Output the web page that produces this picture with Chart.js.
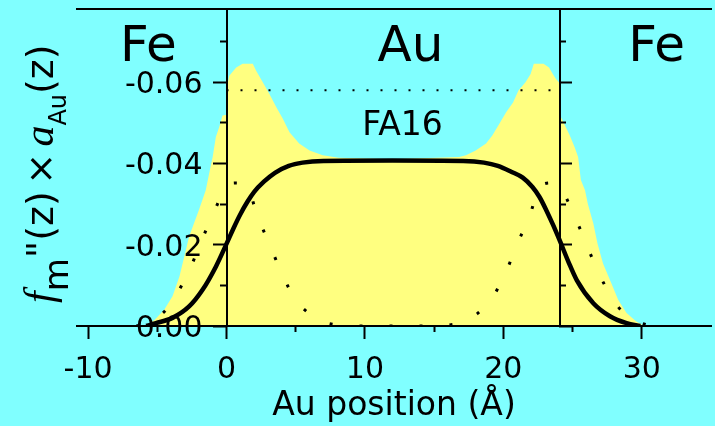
<!DOCTYPE html>
<html>
<head>
<meta charset="utf-8">
<script src="https://cdn.jsdelivr.net/npm/chart.js@4/dist/chart.umd.min.js"></script>
<style>
  html, body { margin: 0; padding: 0; background: #80ffff; }
  #wrap { width: 715px; height: 426px; }
</style>
</head>
<body>
<div id="wrap"><canvas id="profile"></canvas></div>
<script>
// values, z in Angstrom

// yellow shaded profile
const fillZ = [-5.9, -5.2, -4.5, -3.9, -3.4, -3.05, -2.7, -2.0, -1.5, -1.25,
  -1.0, -0.77, -0.53, -0.29, 0, 0, 0.2, 0.7, 1.16, 1.9,
  2.14, 2.62, 3.1, 3.6, 4.07, 4.55, 5.25, 6.0, 6.95, 8.1,
  12, 16.8, 17.3, 18.0, 18.75, 19.2, 19.7, 20.2, 20.7, 21.1,
  21.6, 21.97, 22.2, 22.9, 23.3, 23.57, 23.8, 24.1, 24.1, 24.8,
  25.15, 25.4, 25.6, 25.9, 26.1, 26.5, 26.8, 27.2, 27.8, 28.3,
  28.9, 29.6, 30.2];
const fillVal = [0, -0.0015, -0.004, -0.0073, -0.0122, -0.0171, -0.022, -0.0285, -0.0334, -0.0376,
  -0.0416, -0.0465, -0.0489, -0.0518, -0.052, -0.0583, -0.0616, -0.0636, -0.0645, -0.0645,
  -0.0628, -0.06, -0.0571, -0.0538, -0.051, -0.0477, -0.0449, -0.0432, -0.042, -0.0414,
  -0.041, -0.0416, -0.042, -0.0432, -0.0449, -0.0469, -0.0497, -0.0526, -0.055, -0.058,
  -0.06, -0.062, -0.0645, -0.0645, -0.0636, -0.062, -0.0608, -0.0596, -0.0518, -0.0469,
  -0.044, -0.0416, -0.0359, -0.0334, -0.0301, -0.0252, -0.0203, -0.0154, -0.0105, -0.0064,
  -0.0032, -0.0011, 0];

// thick solid curve
const solidZ = [-5.8, -5.1, -3.9, -2.7, -1.73, -0.77, 0, 0.5, 1.0, 1.5,
  2.0, 2.7, 3.5, 4.5, 5.5, 7, 12, 17.1, 18.6, 19.6,
  20.6, 21.4, 22.1, 22.6, 23.1, 23.6, 24.1, 24.7, 25.3, 26.5,
  27.7, 28.9, 29.9];
const solidVal = [0, -0.0007, -0.002, -0.0048, -0.0089, -0.0146, -0.0202, -0.024, -0.0275, -0.0305,
  -0.033, -0.0355, -0.0377, -0.0394, -0.0402, -0.0406, -0.0407, -0.0406, -0.0402, -0.0394,
  -0.0379, -0.0365, -0.0342, -0.0318, -0.0285, -0.0248, -0.0208, -0.0158, -0.0113, -0.0056,
  -0.0024, -0.0007, 0];

// dotted curve
const dotZ = [-6.5, -5.5, -4.5, -3.8, -2.7, -1.8, -1.0, 0, 0.6, 1.5,
  2.24, 3.1, 3.93, 5.0, 6.0, 6.9, 8.5, 9.5, 14.6, 15.6,
  17.2, 18.1, 19.1, 20.2, 21.0, 21.9, 22.6, 23.5, 24.1, 25.1,
  25.9, 26.8, 27.9, 28.6, 29.6, 30.6];
const dotVal = [0, -0.0012, -0.0035, -0.0067, -0.0136, -0.021, -0.0273, -0.0342, -0.0352, -0.0342,
  -0.027, -0.0202, -0.0134, -0.0064, -0.003, -0.0011, -0.0001, 0, 0, -0.0001,
  -0.0011, -0.003, -0.0064, -0.0134, -0.0202, -0.027, -0.0342, -0.0352, -0.0342, -0.0273,
  -0.021, -0.0136, -0.0067, -0.0035, -0.0012, 0];

// dotted reference level inside Au
const levelZ = [0, 24.1];
const levelVal = [-0.058, -0.058];

// interfaces Fe|Au|Fe
const interfaces = [0, 24.1];

// ticks
const xTicks = [-10, 0, 10, 20, 30];
const xMinorTicks = [-5, 5, 15, 25];
const yTicks = [-0.06, -0.04, -0.02, 0];
const yMinorTicks = [-0.07, -0.05, -0.03, -0.01];

const regionNames = ["Fe", "Au", "Fe"];
const sampleName = "FA16";

const xMin = -10.8, xMax = 35;
const yMin = -0.078, yMax = 0;

function pts(xs, ys) {
  return xs.map((x, i) => ({ x: x, y: ys[i] }));
}

function fixedTicks(values) {
  return s => { s.ticks = values.map(v => ({ value: v })); };
}

// axes drawn at a data position should not take layout room
function flat(s) {
  if (s.isHorizontal()) s.height = 0; else s.width = 0;
  s.paddingTop = s.paddingBottom = s.paddingLeft = s.paddingRight = 0;
}

const tickFont = { family: "DejaVu Sans", size: 30 };

function markAxis(axis, position, values, len, border) {
  return {
    type: "linear",
    axis: axis,
    position: position,
    min: axis === "x" ? xMin : yMin,
    max: axis === "x" ? xMax : yMax,
    reverse: axis === "y",
    afterBuildTicks: fixedTicks(values),
    afterFit: flat,
    grid: { drawOnChartArea: false, tickLength: len, tickWidth: 2, tickColor: "#000", z: 1 },
    border: { display: border, width: 2, color: "#000", z: 1 },
    ticks: { display: false, z: 1 }
  };
}

// region labels, y tick labels and the y title, placed with the chart's scales
const annotate = {
  id: "annotate",
  afterDraw(chart) {
    const ctx = chart.ctx;
    const sx = chart.scales.x, sy = chart.scales.y;
    ctx.save();
    ctx.fillStyle = "#000";
    ctx.textAlign = "center";
    ctx.textBaseline = "alphabetic";
    ctx.font = '50px "DejaVu Sans"';
    const spots = [-5.65, 13.29, 31.07];
    regionNames.forEach((t, i) => {
      ctx.fillText(t, sx.getPixelForValue(spots[i]), sy.getPixelForValue(-0.0652));
    });
    ctx.font = '33px "DejaVu Sans"';
    ctx.fillText(sampleName, sx.getPixelForValue(12.71), sy.getPixelForValue(-0.0469));

    // y tick labels, left of the Fe|Au interface line
    ctx.textAlign = "right";
    ctx.font = '30px "DejaVu Sans"';
    const lx = sx.getPixelForValue(interfaces[0]) - 24;
    yTicks.forEach(v => {
      ctx.fillText(v.toFixed(2), lx, sy.getPixelForValue(v) + 11);
    });
    ctx.restore();

    // y title: f_m''(z) x a_Au(z)
    const runs = [
      { t: "f", font: 'italic 42px "Liberation Serif"', dy: 0 },
      { t: "m", font: '34px "DejaVu Sans"', dy: 15 },
      { t: '"', font: '38px "DejaVu Sans"', dy: 0 },
      { t: "(z)", font: '38px "DejaVu Sans"', dy: 0 },
      { t: " \u00d7 ", font: '20px "DejaVu Sans"', dy: 0 },
      { t: "a", font: 'italic 42px "Liberation Serif"', dy: 0 },
      { t: "Au", font: '24px "DejaVu Sans"', dy: 13 },
      { t: "(z)", font: '38px "DejaVu Sans"', dy: 0 }
    ];
    ctx.save();
    ctx.fillStyle = "#000";
    ctx.textAlign = "left";
    ctx.textBaseline = "alphabetic";
    ctx.translate(53, chart.chartArea.bottom - 23);
    ctx.rotate(-Math.PI / 2);
    let pos = 0;
    runs.forEach(r => {
      ctx.font = r.font;
      if (r.t === " \u00d7 ") {
        // spaces small, the cross at full size
        const sp = ctx.measureText(" ").width;
        ctx.font = '38px "DejaVu Sans"';
        ctx.fillText("\u00d7", pos + sp, r.dy);
        pos += 2 * sp + ctx.measureText("\u00d7").width;
      } else {
        ctx.fillText(r.t, pos, r.dy);
        pos += ctx.measureText(r.t).width;
      }
    });
    ctx.restore();
  }
};

const ctx = document.getElementById("profile").getContext("2d");
const chart = new Chart(ctx, {
  type: "line",
  data: {
    datasets: [
      {
        label: "solid",
        data: pts(solidZ, solidVal),
        borderColor: "#000",
        borderWidth: 4.5,
        pointRadius: 0,
        cubicInterpolationMode: "monotone",
        fill: false,
        order: 1
      },
      {
        label: "dotted",
        data: pts(dotZ, dotVal),
        borderColor: "#000",
        borderWidth: 3,
        borderDash: [3, 27],
        pointRadius: 0,
        cubicInterpolationMode: "monotone",
        fill: false,
        order: 2
      },
      {
        label: "level",
        data: pts(levelZ, levelVal),
        borderColor: "#000",
        borderWidth: 2,
        borderDash: [2, 12],
        pointRadius: 0,
        fill: false,
        order: 3
      },
      {
        label: "shade",
        data: pts(fillZ, fillVal),
        borderWidth: 0,
        borderColor: "rgba(0,0,0,0)",
        backgroundColor: "#ffff80",
        pointRadius: 0,
        tension: 0,
        fill: "origin",
        order: 4
      }
    ]
  },
  options: {
    responsive: true,
    maintainAspectRatio: false,
    animation: false,
    layout: { padding: { top: 9, right: 4, left: 77, bottom: 0 } },
    plugins: {
      legend: { display: false },
      tooltip: { enabled: false }
    },
    scales: {
      x: {
        type: "linear",
        position: "bottom",
        min: xMin,
        max: xMax,
        afterBuildTicks: fixedTicks(xTicks),
        afterFit: s => {
          s.height = 100;
          s.paddingLeft = s.paddingRight = 0;
        },
        grid: { drawOnChartArea: false, tickLength: 13, tickWidth: 2, tickColor: "#000", z: 1 },
        border: { width: 2, color: "#000", z: 1 },
        ticks: { font: tickFont, color: "#000", padding: 13, maxRotation: 0, z: 1, callback: v => String(v) },
        title: {
          display: true,
          text: "Au position (Å)",
          font: { family: "DejaVu Sans", size: 33 },
          color: "#000",
          padding: 0
        }
      },
      xMinor: markAxis("x", { y: 0 }, xMinorTicks, 6, false),
      xTop: {
        type: "linear",
        position: "top",
        min: xMin,
        max: xMax,
        afterFit: flat,
        grid: { display: false },
        border: { width: 2, color: "#000", z: 1 },
        ticks: { display: false }
      },
      y: {
        type: "linear",
        position: { x: interfaces[0] },
        min: yMin,
        max: yMax,
        reverse: true,
        afterBuildTicks: fixedTicks(yTicks),
        afterFit: flat,
        grid: { drawOnChartArea: false, tickLength: 13, tickWidth: 2, tickColor: "#000", z: 1 },
        border: { width: 2, color: "#000", z: 1 },
        ticks: { display: false }
      },
      yMinor: markAxis("y", { x: interfaces[0] }, yMinorTicks, 7, false),
      yRight: markAxis("y", { x: interfaces[1] }, yTicks, -13, true),
      yRightMinor: markAxis("y", { x: interfaces[1] }, yMinorTicks, -6, false)
    }
  },
  plugins: [annotate]
});
</script>
</body>
</html>
